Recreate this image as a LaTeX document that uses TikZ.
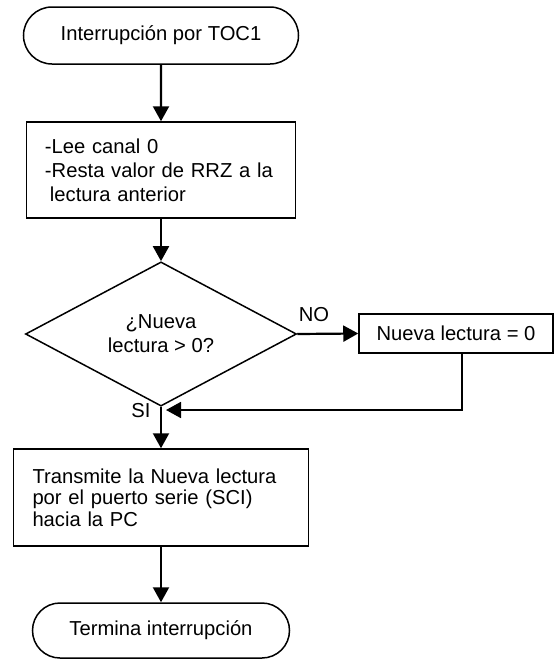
\documentclass[tikz,border=0pt]{standalone}
\usepackage{fontspec}
\setmainfont{Liberation Sans}
\usetikzlibrary{arrows.meta,shapes.geometric,shapes.misc,calc}
\begin{document}
\begin{tikzpicture}[x=1pt,y=-1pt,
  every node/.style={font=\fontsize{20.2}{24}\selectfont},
  term/.style={draw,line width=1.5pt,rounded rectangle,inner sep=0pt},
  procbox/.style={draw,line width=1.5pt,rectangle,inner ysep=0pt,align=left},
  decis/.style={draw,line width=1.5pt,diamond,inner sep=0pt,align=center},
  lbl/.style={inner sep=0pt},
  flow/.style={line width=2.2pt,-{Triangle[length=15pt,width=16pt]}},
  loopline/.style={line width=1.8pt,-{Triangle[length=15pt,width=16pt]}}]
\useasboundingbox (0,0) rectangle (554,659);
\node[term,minimum width=275pt,minimum height=57pt] (start) at (161,35.5) {Interrupción por TOC1};
\node[procbox,inner xsep=18.5pt,text width=232pt,minimum height=96pt] (b1) at (161,170) {-Lee canal 0\\-Resta valor de RRZ a la\\\hspace{5pt}lectura anterior};
\node[decis,minimum width=271pt,minimum height=115pt] (dec) at (161,334) {¿Nueva\\lectura > 0?};
\node[procbox,align=center,inner sep=0pt,minimum width=194pt,minimum height=39pt] (b2) at (456,333.5) {Nueva lectura = 0};
\node[procbox,inner xsep=19pt,text width=257pt,minimum height=97pt,font=\fontsize{20.2}{21.5}\selectfont] (b3) at (161,497.5) {Transmite la Nueva lectura\\por el puerto serie (SCI)\\hacia la PC};
\node[term,minimum width=257pt,minimum height=55pt] (end) at (161,630.5) {Termina interrupción};
\node[lbl] (no) at (314,315) {NO};
\node[lbl] (si) at (141,411) {SI};
\coordinate (tipc) at (166,410);
\draw[flow] (start) -- (b1);
\draw[flow] (b1) -- (dec);
\draw[flow] (dec.east) -- (b2.west);
\draw[flow] (dec.south) -- (b3.north);
\draw[flow] (b3) -- (end);
\draw[loopline] ([xshift=6pt]b2.south) |- (tipc);
\end{tikzpicture}
\end{document}
